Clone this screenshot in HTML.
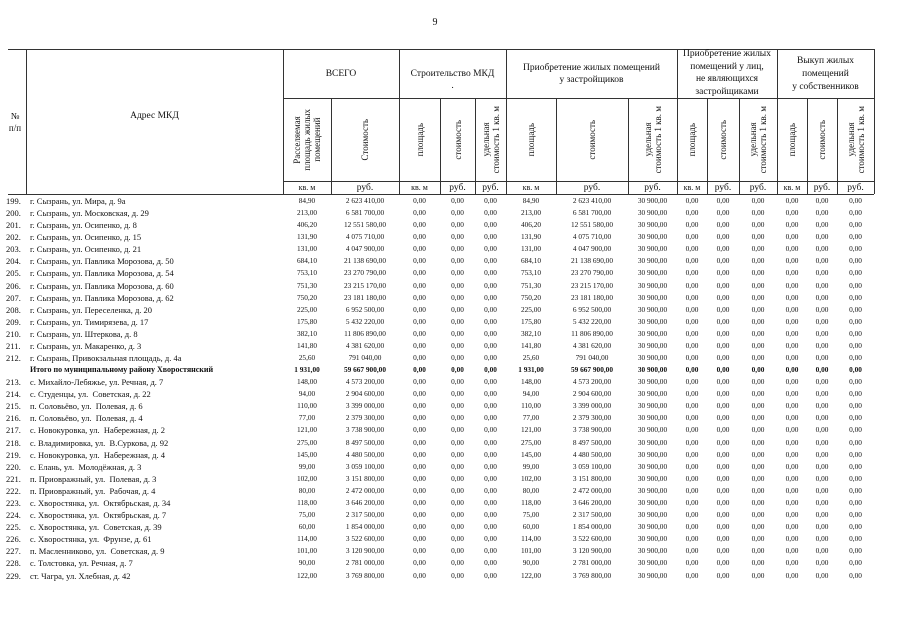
<!DOCTYPE html>
<html><head><meta charset="utf-8"><style>
body{margin:0;width:905px;height:640px;background:#fff;position:relative;overflow:hidden;font-family:"Liberation Serif","DejaVu Serif",serif;color:#111}
.h{position:absolute;height:1px;background:#333}
.v{position:absolute;width:1px;background:#333}
.t{position:absolute;text-align:center;font-size:9.5px;line-height:12px}
.rot{position:absolute;top:99px;height:82px;display:flex;align-items:center;justify-content:center;}
.rot span{writing-mode:vertical-rl;transform:rotate(180deg);font-size:9px;line-height:10px;text-align:center;white-space:nowrap}
.u{position:absolute;top:182px;height:12px;font-size:9.5px;line-height:12px;text-align:center}
.r{position:absolute;left:0;width:905px;height:12px;font-size:7.3px;line-height:12px}
.r i{font-style:normal;position:absolute;top:0;text-align:center;white-space:nowrap}
.r i.n{left:6px;width:20px;text-align:left;font-size:8.5px}
.r i.d{left:30px;text-align:left;font-size:8.5px}
.c1{left:283px;width:48px}.c2{left:331px;width:68px}.c3{left:399px;width:41px}.c4{left:440px;width:35px}.c5{left:475px;width:31px}
.c6{left:506px;width:50px}.c7{left:556px;width:72px}.c8{left:628px;width:49px}.c9{left:677px;width:30px}.c10{left:707px;width:32px}
.c11{left:739px;width:38px}.c12{left:777px;width:30px}.c13{left:807px;width:30px}.c14{left:837px;width:37px}
.b{font-weight:bold}
</style></head><body>
<div class="t" style="left:425px;top:17px;width:20px;font-size:10px">9</div>
<div class="h" style="left:8px;top:49px;width:866px"></div>
<div class="h" style="left:283px;top:98px;width:591px"></div>
<div class="h" style="left:283px;top:181px;width:591px"></div>
<div class="h" style="left:8px;top:194px;width:866px"></div>
<div class="v" style="left:26px;top:49px;height:145px"></div>
<div class="v" style="left:283px;top:49px;height:145px"></div>
<div class="v" style="left:399px;top:49px;height:145px"></div>
<div class="v" style="left:506px;top:49px;height:145px"></div>
<div class="v" style="left:677px;top:49px;height:145px"></div>
<div class="v" style="left:777px;top:49px;height:145px"></div>
<div class="v" style="left:874px;top:49px;height:145px"></div>
<div class="v" style="left:331px;top:98px;height:96px"></div>
<div class="v" style="left:440px;top:98px;height:96px"></div>
<div class="v" style="left:475px;top:98px;height:96px"></div>
<div class="v" style="left:556px;top:98px;height:96px"></div>
<div class="v" style="left:628px;top:98px;height:96px"></div>
<div class="v" style="left:707px;top:98px;height:96px"></div>
<div class="v" style="left:739px;top:98px;height:96px"></div>
<div class="v" style="left:807px;top:98px;height:96px"></div>
<div class="v" style="left:837px;top:98px;height:96px"></div>
<div class="t" style="left:4px;top:110px;width:22px;font-size:9px;line-height:12px">№<br>п/п</div>
<div class="t" style="left:26px;top:110px;width:257px">Адрес МКД</div>
<div class="t" style="left:283px;top:68px;width:116px">ВСЕГО</div>
<div class="t" style="left:399px;top:68px;width:107px">Строительство МКД<br>.</div>
<div class="t" style="left:506px;top:62px;width:171px">Приобретение жилых помещений<br>у застройщиков</div>
<div class="t" style="left:677px;top:48px;width:100px;line-height:12.5px;white-space:nowrap">Приобретение жилых<br>помещений у лиц,<br>не являющихся<br>застройщиками</div>
<div class="t" style="left:777px;top:55px;width:97px;line-height:13px">Выкуп жилых<br>помещений<br>у собственников</div>
<div class="rot" style="left:283px;width:48px"><span>Расселяемая<br>площадь жилых<br>помещений</span></div>
<div class="rot" style="left:331px;width:68px"><span>Стоимость</span></div>
<div class="rot" style="left:399px;width:41px"><span>площадь</span></div>
<div class="rot" style="left:440px;width:35px"><span>стоимость</span></div>
<div class="rot" style="left:475px;width:31px"><span>удельная<br>стоимость 1 кв. м</span></div>
<div class="rot" style="left:506px;width:50px"><span>площадь</span></div>
<div class="rot" style="left:556px;width:72px"><span>стоимость</span></div>
<div class="rot" style="left:628px;width:49px"><span>удельная<br>стоимость 1 кв. м</span></div>
<div class="rot" style="left:677px;width:30px"><span>площадь</span></div>
<div class="rot" style="left:707px;width:32px"><span>стоимость</span></div>
<div class="rot" style="left:739px;width:38px"><span>удельная<br>стоимость 1 кв. м</span></div>
<div class="rot" style="left:777px;width:30px"><span>площадь</span></div>
<div class="rot" style="left:807px;width:30px"><span>стоимость</span></div>
<div class="rot" style="left:837px;width:37px"><span>удельная<br>стоимость 1 кв. м</span></div>
<div class="u c1" style="font-size:8px">кв. м</div><div class="u c2">руб.</div><div class="u c3" style="font-size:8px">кв. м</div><div class="u c4">руб.</div><div class="u c5">руб.</div>
<div class="u c6" style="font-size:8px">кв. м</div><div class="u c7">руб.</div><div class="u c8">руб.</div><div class="u c9" style="font-size:8px">кв. м</div><div class="u c10">руб.</div>
<div class="u c11">руб.</div><div class="u c12" style="font-size:8px">кв. м</div><div class="u c13">руб.</div><div class="u c14">руб.</div>

<div class="r" style="top:195px"><i class="n">199.</i><i class="d">г. Сызрань, ул. Мира, д. 9а</i><i class="c1">84,90</i><i class="c2">2 623 410,00</i><i class="c3">0,00</i><i class="c4">0,00</i><i class="c5">0,00</i><i class="c6">84,90</i><i class="c7">2 623 410,00</i><i class="c8">30 900,00</i><i class="c9">0,00</i><i class="c10">0,00</i><i class="c11">0,00</i><i class="c12">0,00</i><i class="c13">0,00</i><i class="c14">0,00</i></div>
<div class="r" style="top:207px"><i class="n">200.</i><i class="d">г. Сызрань, ул. Московская, д. 29</i><i class="c1">213,00</i><i class="c2">6 581 700,00</i><i class="c3">0,00</i><i class="c4">0,00</i><i class="c5">0,00</i><i class="c6">213,00</i><i class="c7">6 581 700,00</i><i class="c8">30 900,00</i><i class="c9">0,00</i><i class="c10">0,00</i><i class="c11">0,00</i><i class="c12">0,00</i><i class="c13">0,00</i><i class="c14">0,00</i></div>
<div class="r" style="top:219px"><i class="n">201.</i><i class="d">г. Сызрань, ул. Осипенко, д. 8</i><i class="c1">406,20</i><i class="c2">12 551 580,00</i><i class="c3">0,00</i><i class="c4">0,00</i><i class="c5">0,00</i><i class="c6">406,20</i><i class="c7">12 551 580,00</i><i class="c8">30 900,00</i><i class="c9">0,00</i><i class="c10">0,00</i><i class="c11">0,00</i><i class="c12">0,00</i><i class="c13">0,00</i><i class="c14">0,00</i></div>
<div class="r" style="top:231px"><i class="n">202.</i><i class="d">г. Сызрань, ул. Осипенко, д. 15</i><i class="c1">131,90</i><i class="c2">4 075 710,00</i><i class="c3">0,00</i><i class="c4">0,00</i><i class="c5">0,00</i><i class="c6">131,90</i><i class="c7">4 075 710,00</i><i class="c8">30 900,00</i><i class="c9">0,00</i><i class="c10">0,00</i><i class="c11">0,00</i><i class="c12">0,00</i><i class="c13">0,00</i><i class="c14">0,00</i></div>
<div class="r" style="top:243px"><i class="n">203.</i><i class="d">г. Сызрань, ул. Осипенко, д. 21</i><i class="c1">131,00</i><i class="c2">4 047 900,00</i><i class="c3">0,00</i><i class="c4">0,00</i><i class="c5">0,00</i><i class="c6">131,00</i><i class="c7">4 047 900,00</i><i class="c8">30 900,00</i><i class="c9">0,00</i><i class="c10">0,00</i><i class="c11">0,00</i><i class="c12">0,00</i><i class="c13">0,00</i><i class="c14">0,00</i></div>
<div class="r" style="top:255px"><i class="n">204.</i><i class="d">г. Сызрань, ул. Павлика Морозова, д. 50</i><i class="c1">684,10</i><i class="c2">21 138 690,00</i><i class="c3">0,00</i><i class="c4">0,00</i><i class="c5">0,00</i><i class="c6">684,10</i><i class="c7">21 138 690,00</i><i class="c8">30 900,00</i><i class="c9">0,00</i><i class="c10">0,00</i><i class="c11">0,00</i><i class="c12">0,00</i><i class="c13">0,00</i><i class="c14">0,00</i></div>
<div class="r" style="top:267px"><i class="n">205.</i><i class="d">г. Сызрань, ул. Павлика Морозова, д. 54</i><i class="c1">753,10</i><i class="c2">23 270 790,00</i><i class="c3">0,00</i><i class="c4">0,00</i><i class="c5">0,00</i><i class="c6">753,10</i><i class="c7">23 270 790,00</i><i class="c8">30 900,00</i><i class="c9">0,00</i><i class="c10">0,00</i><i class="c11">0,00</i><i class="c12">0,00</i><i class="c13">0,00</i><i class="c14">0,00</i></div>
<div class="r" style="top:280px"><i class="n">206.</i><i class="d">г. Сызрань, ул. Павлика Морозова, д. 60</i><i class="c1">751,30</i><i class="c2">23 215 170,00</i><i class="c3">0,00</i><i class="c4">0,00</i><i class="c5">0,00</i><i class="c6">751,30</i><i class="c7">23 215 170,00</i><i class="c8">30 900,00</i><i class="c9">0,00</i><i class="c10">0,00</i><i class="c11">0,00</i><i class="c12">0,00</i><i class="c13">0,00</i><i class="c14">0,00</i></div>
<div class="r" style="top:292px"><i class="n">207.</i><i class="d">г. Сызрань, ул. Павлика Морозова, д. 62</i><i class="c1">750,20</i><i class="c2">23 181 180,00</i><i class="c3">0,00</i><i class="c4">0,00</i><i class="c5">0,00</i><i class="c6">750,20</i><i class="c7">23 181 180,00</i><i class="c8">30 900,00</i><i class="c9">0,00</i><i class="c10">0,00</i><i class="c11">0,00</i><i class="c12">0,00</i><i class="c13">0,00</i><i class="c14">0,00</i></div>
<div class="r" style="top:304px"><i class="n">208.</i><i class="d">г. Сызрань, ул. Переселенка, д. 20</i><i class="c1">225,00</i><i class="c2">6 952 500,00</i><i class="c3">0,00</i><i class="c4">0,00</i><i class="c5">0,00</i><i class="c6">225,00</i><i class="c7">6 952 500,00</i><i class="c8">30 900,00</i><i class="c9">0,00</i><i class="c10">0,00</i><i class="c11">0,00</i><i class="c12">0,00</i><i class="c13">0,00</i><i class="c14">0,00</i></div>
<div class="r" style="top:316px"><i class="n">209.</i><i class="d">г. Сызрань, ул. Тимирязева, д. 17</i><i class="c1">175,80</i><i class="c2">5 432 220,00</i><i class="c3">0,00</i><i class="c4">0,00</i><i class="c5">0,00</i><i class="c6">175,80</i><i class="c7">5 432 220,00</i><i class="c8">30 900,00</i><i class="c9">0,00</i><i class="c10">0,00</i><i class="c11">0,00</i><i class="c12">0,00</i><i class="c13">0,00</i><i class="c14">0,00</i></div>
<div class="r" style="top:328px"><i class="n">210.</i><i class="d">г. Сызрань, ул. Штеркова, д. 8</i><i class="c1">382,10</i><i class="c2">11 806 890,00</i><i class="c3">0,00</i><i class="c4">0,00</i><i class="c5">0,00</i><i class="c6">382,10</i><i class="c7">11 806 890,00</i><i class="c8">30 900,00</i><i class="c9">0,00</i><i class="c10">0,00</i><i class="c11">0,00</i><i class="c12">0,00</i><i class="c13">0,00</i><i class="c14">0,00</i></div>
<div class="r" style="top:340px"><i class="n">211.</i><i class="d">г. Сызрань, ул. Макаренко, д. 3</i><i class="c1">141,80</i><i class="c2">4 381 620,00</i><i class="c3">0,00</i><i class="c4">0,00</i><i class="c5">0,00</i><i class="c6">141,80</i><i class="c7">4 381 620,00</i><i class="c8">30 900,00</i><i class="c9">0,00</i><i class="c10">0,00</i><i class="c11">0,00</i><i class="c12">0,00</i><i class="c13">0,00</i><i class="c14">0,00</i></div>
<div class="r" style="top:352px"><i class="n">212.</i><i class="d">г. Сызрань, Привокзальная площадь, д. 4а</i><i class="c1">25,60</i><i class="c2">791 040,00</i><i class="c3">0,00</i><i class="c4">0,00</i><i class="c5">0,00</i><i class="c6">25,60</i><i class="c7">791 040,00</i><i class="c8">30 900,00</i><i class="c9">0,00</i><i class="c10">0,00</i><i class="c11">0,00</i><i class="c12">0,00</i><i class="c13">0,00</i><i class="c14">0,00</i></div>
<div class="r b" style="top:364px"><i class="d" style="font-size:8px">Итого по муниципальному району Хворостянский</i><i class="c1">1 931,00</i><i class="c2">59 667 900,00</i><i class="c3">0,00</i><i class="c4">0,00</i><i class="c5">0,00</i><i class="c6">1 931,00</i><i class="c7">59 667 900,00</i><i class="c8">30 900,00</i><i class="c9">0,00</i><i class="c10">0,00</i><i class="c11">0,00</i><i class="c12">0,00</i><i class="c13">0,00</i><i class="c14">0,00</i></div>
<div class="r" style="top:376px"><i class="n">213.</i><i class="d">с. Михайло-Лебяжье, ул. Речная, д. 7</i><i class="c1">148,00</i><i class="c2">4 573 200,00</i><i class="c3">0,00</i><i class="c4">0,00</i><i class="c5">0,00</i><i class="c6">148,00</i><i class="c7">4 573 200,00</i><i class="c8">30 900,00</i><i class="c9">0,00</i><i class="c10">0,00</i><i class="c11">0,00</i><i class="c12">0,00</i><i class="c13">0,00</i><i class="c14">0,00</i></div>
<div class="r" style="top:388px"><i class="n">214.</i><i class="d">с. Студенцы, ул.&nbsp; Советская, д. 22</i><i class="c1">94,00</i><i class="c2">2 904 600,00</i><i class="c3">0,00</i><i class="c4">0,00</i><i class="c5">0,00</i><i class="c6">94,00</i><i class="c7">2 904 600,00</i><i class="c8">30 900,00</i><i class="c9">0,00</i><i class="c10">0,00</i><i class="c11">0,00</i><i class="c12">0,00</i><i class="c13">0,00</i><i class="c14">0,00</i></div>
<div class="r" style="top:400px"><i class="n">215.</i><i class="d">п. Соловьёво, ул.&nbsp; Полевая, д. 6</i><i class="c1">110,00</i><i class="c2">3 399 000,00</i><i class="c3">0,00</i><i class="c4">0,00</i><i class="c5">0,00</i><i class="c6">110,00</i><i class="c7">3 399 000,00</i><i class="c8">30 900,00</i><i class="c9">0,00</i><i class="c10">0,00</i><i class="c11">0,00</i><i class="c12">0,00</i><i class="c13">0,00</i><i class="c14">0,00</i></div>
<div class="r" style="top:412px"><i class="n">216.</i><i class="d">п. Соловьёво, ул.&nbsp; Полевая, д. 4</i><i class="c1">77,00</i><i class="c2">2 379 300,00</i><i class="c3">0,00</i><i class="c4">0,00</i><i class="c5">0,00</i><i class="c6">77,00</i><i class="c7">2 379 300,00</i><i class="c8">30 900,00</i><i class="c9">0,00</i><i class="c10">0,00</i><i class="c11">0,00</i><i class="c12">0,00</i><i class="c13">0,00</i><i class="c14">0,00</i></div>
<div class="r" style="top:424px"><i class="n">217.</i><i class="d">с. Новокуровка, ул.&nbsp; Набережная, д. 2</i><i class="c1">121,00</i><i class="c2">3 738 900,00</i><i class="c3">0,00</i><i class="c4">0,00</i><i class="c5">0,00</i><i class="c6">121,00</i><i class="c7">3 738 900,00</i><i class="c8">30 900,00</i><i class="c9">0,00</i><i class="c10">0,00</i><i class="c11">0,00</i><i class="c12">0,00</i><i class="c13">0,00</i><i class="c14">0,00</i></div>
<div class="r" style="top:437px"><i class="n">218.</i><i class="d">с. Владимировка, ул.&nbsp; В.Суркова, д. 92</i><i class="c1">275,00</i><i class="c2">8 497 500,00</i><i class="c3">0,00</i><i class="c4">0,00</i><i class="c5">0,00</i><i class="c6">275,00</i><i class="c7">8 497 500,00</i><i class="c8">30 900,00</i><i class="c9">0,00</i><i class="c10">0,00</i><i class="c11">0,00</i><i class="c12">0,00</i><i class="c13">0,00</i><i class="c14">0,00</i></div>
<div class="r" style="top:449px"><i class="n">219.</i><i class="d">с. Новокуровка, ул.&nbsp; Набережная, д. 4</i><i class="c1">145,00</i><i class="c2">4 480 500,00</i><i class="c3">0,00</i><i class="c4">0,00</i><i class="c5">0,00</i><i class="c6">145,00</i><i class="c7">4 480 500,00</i><i class="c8">30 900,00</i><i class="c9">0,00</i><i class="c10">0,00</i><i class="c11">0,00</i><i class="c12">0,00</i><i class="c13">0,00</i><i class="c14">0,00</i></div>
<div class="r" style="top:461px"><i class="n">220.</i><i class="d">с. Елань, ул.&nbsp; Молодёжная, д. 3</i><i class="c1">99,00</i><i class="c2">3 059 100,00</i><i class="c3">0,00</i><i class="c4">0,00</i><i class="c5">0,00</i><i class="c6">99,00</i><i class="c7">3 059 100,00</i><i class="c8">30 900,00</i><i class="c9">0,00</i><i class="c10">0,00</i><i class="c11">0,00</i><i class="c12">0,00</i><i class="c13">0,00</i><i class="c14">0,00</i></div>
<div class="r" style="top:473px"><i class="n">221.</i><i class="d">п. Приовражный, ул.&nbsp; Полевая, д. 3</i><i class="c1">102,00</i><i class="c2">3 151 800,00</i><i class="c3">0,00</i><i class="c4">0,00</i><i class="c5">0,00</i><i class="c6">102,00</i><i class="c7">3 151 800,00</i><i class="c8">30 900,00</i><i class="c9">0,00</i><i class="c10">0,00</i><i class="c11">0,00</i><i class="c12">0,00</i><i class="c13">0,00</i><i class="c14">0,00</i></div>
<div class="r" style="top:485px"><i class="n">222.</i><i class="d">п. Приовражный, ул.&nbsp; Рабочая, д. 4</i><i class="c1">80,00</i><i class="c2">2 472 000,00</i><i class="c3">0,00</i><i class="c4">0,00</i><i class="c5">0,00</i><i class="c6">80,00</i><i class="c7">2 472 000,00</i><i class="c8">30 900,00</i><i class="c9">0,00</i><i class="c10">0,00</i><i class="c11">0,00</i><i class="c12">0,00</i><i class="c13">0,00</i><i class="c14">0,00</i></div>
<div class="r" style="top:497px"><i class="n">223.</i><i class="d">с. Хворостянка, ул.&nbsp; Октябрьская, д. 34</i><i class="c1">118,00</i><i class="c2">3 646 200,00</i><i class="c3">0,00</i><i class="c4">0,00</i><i class="c5">0,00</i><i class="c6">118,00</i><i class="c7">3 646 200,00</i><i class="c8">30 900,00</i><i class="c9">0,00</i><i class="c10">0,00</i><i class="c11">0,00</i><i class="c12">0,00</i><i class="c13">0,00</i><i class="c14">0,00</i></div>
<div class="r" style="top:509px"><i class="n">224.</i><i class="d">с. Хворостянка, ул.&nbsp; Октябрьская, д. 7</i><i class="c1">75,00</i><i class="c2">2 317 500,00</i><i class="c3">0,00</i><i class="c4">0,00</i><i class="c5">0,00</i><i class="c6">75,00</i><i class="c7">2 317 500,00</i><i class="c8">30 900,00</i><i class="c9">0,00</i><i class="c10">0,00</i><i class="c11">0,00</i><i class="c12">0,00</i><i class="c13">0,00</i><i class="c14">0,00</i></div>
<div class="r" style="top:521px"><i class="n">225.</i><i class="d">с. Хворостянка, ул.&nbsp; Советская, д. 39</i><i class="c1">60,00</i><i class="c2">1 854 000,00</i><i class="c3">0,00</i><i class="c4">0,00</i><i class="c5">0,00</i><i class="c6">60,00</i><i class="c7">1 854 000,00</i><i class="c8">30 900,00</i><i class="c9">0,00</i><i class="c10">0,00</i><i class="c11">0,00</i><i class="c12">0,00</i><i class="c13">0,00</i><i class="c14">0,00</i></div>
<div class="r" style="top:533px"><i class="n">226.</i><i class="d">с. Хворостянка, ул.&nbsp; Фрунзе, д. 61</i><i class="c1">114,00</i><i class="c2">3 522 600,00</i><i class="c3">0,00</i><i class="c4">0,00</i><i class="c5">0,00</i><i class="c6">114,00</i><i class="c7">3 522 600,00</i><i class="c8">30 900,00</i><i class="c9">0,00</i><i class="c10">0,00</i><i class="c11">0,00</i><i class="c12">0,00</i><i class="c13">0,00</i><i class="c14">0,00</i></div>
<div class="r" style="top:545px"><i class="n">227.</i><i class="d">п. Масленниково, ул.&nbsp; Советская, д. 9</i><i class="c1">101,00</i><i class="c2">3 120 900,00</i><i class="c3">0,00</i><i class="c4">0,00</i><i class="c5">0,00</i><i class="c6">101,00</i><i class="c7">3 120 900,00</i><i class="c8">30 900,00</i><i class="c9">0,00</i><i class="c10">0,00</i><i class="c11">0,00</i><i class="c12">0,00</i><i class="c13">0,00</i><i class="c14">0,00</i></div>
<div class="r" style="top:557px"><i class="n">228.</i><i class="d">с. Толстовка, ул. Речная, д. 7</i><i class="c1">90,00</i><i class="c2">2 781 000,00</i><i class="c3">0,00</i><i class="c4">0,00</i><i class="c5">0,00</i><i class="c6">90,00</i><i class="c7">2 781 000,00</i><i class="c8">30 900,00</i><i class="c9">0,00</i><i class="c10">0,00</i><i class="c11">0,00</i><i class="c12">0,00</i><i class="c13">0,00</i><i class="c14">0,00</i></div>
<div class="r" style="top:570px"><i class="n">229.</i><i class="d">ст. Чагра, ул. Хлебная, д. 42</i><i class="c1">122,00</i><i class="c2">3 769 800,00</i><i class="c3">0,00</i><i class="c4">0,00</i><i class="c5">0,00</i><i class="c6">122,00</i><i class="c7">3 769 800,00</i><i class="c8">30 900,00</i><i class="c9">0,00</i><i class="c10">0,00</i><i class="c11">0,00</i><i class="c12">0,00</i><i class="c13">0,00</i><i class="c14">0,00</i></div>
</body></html>
